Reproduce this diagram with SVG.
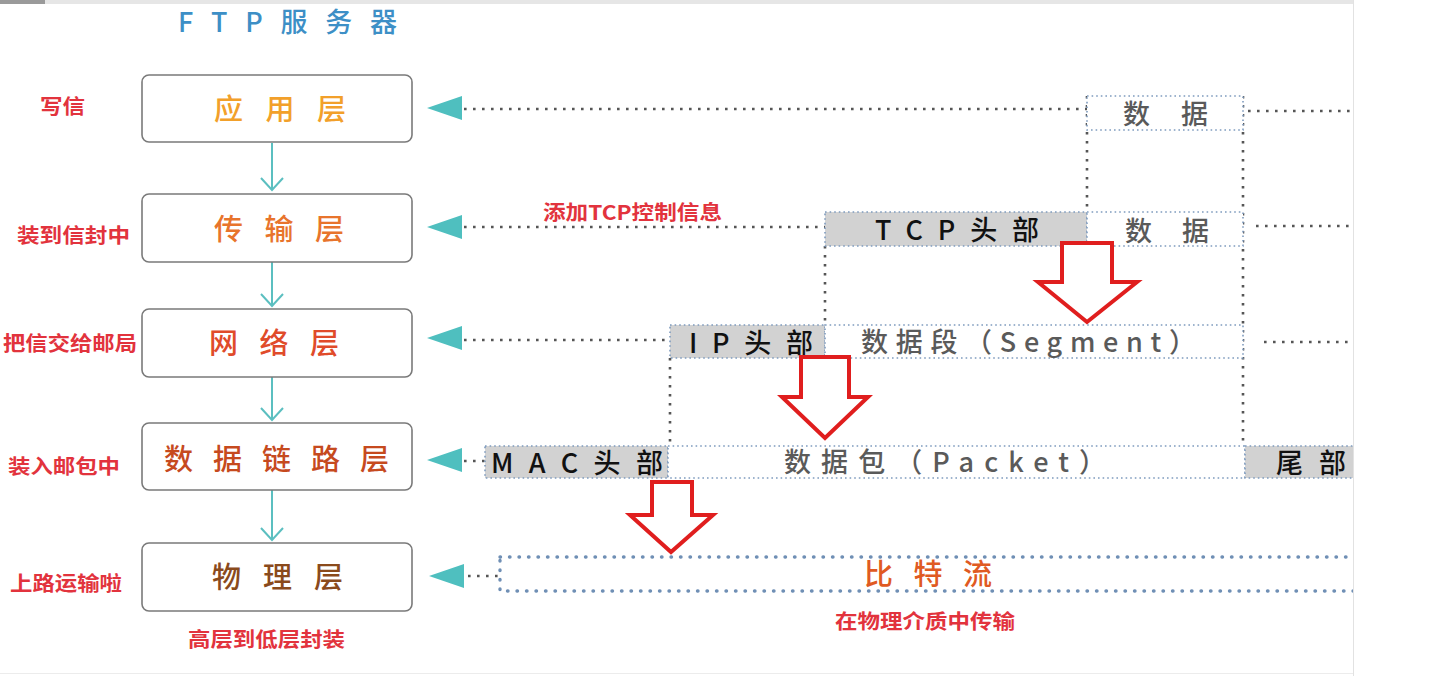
<svg xmlns="http://www.w3.org/2000/svg" width="1447" height="676" viewBox="0 0 1447 676">
<style>
.layer{font-size:29px;font-weight:500;font-family:"Noto Sans CJK SC",sans-serif}
.note{font-size:20px;font-weight:bold;fill:#e2333d;font-family:"Noto Sans CJK SC",sans-serif}
.pk{font-size:27px;font-weight:500;font-family:"Noto Sans CJK SC","Liberation Sans",sans-serif}
.hd{fill:#111}
.dt{fill:#5a5a5a}
.lbox{fill:#fff;stroke:#7a7a7a;stroke-width:1.6}
.pbox{fill:#fff;stroke:#7f9cbf;stroke-width:1.6;stroke-dasharray:1.6 3}
.gbox{fill:#d2d2d2;stroke:#7f9cbf;stroke-width:1.6;stroke-dasharray:1.6 3}
.dots{stroke:#555;stroke-width:2.6;stroke-dasharray:2.6 6.4;fill:none}
.tri{fill:#4fbfbf}
.down{stroke:#5bbfc0;stroke-width:2;fill:none}
.big{fill:#fff;stroke:#e01e1e;stroke-width:4;stroke-linejoin:miter}
</style>
<defs>
<clipPath id="shot"><rect x="0" y="0" width="1353" height="676"/></clipPath>
</defs>
<rect x="0" y="0" width="1447" height="676" fill="#fff"/>
<rect x="0" y="0" width="1353" height="4" fill="#e6e6e6"/>
<rect x="0" y="0" width="45" height="4" fill="#9a9a9a"/>
<line x1="1353.5" y1="0" x2="1353.5" y2="676" stroke="#e2e2e2" stroke-width="1"/>
<line x1="0" y1="673.5" x2="1353" y2="673.5" stroke="#ececec" stroke-width="1"/>

<g id="title"><text x="178" y="32" font-size="27" font-weight="500" fill="#3d8fc6" textLength="219" lengthAdjust="spacing" font-family="Noto Sans CJK SC, sans-serif">FTP服务器</text></g>

<g clip-path="url(#shot)">
<g id="lines">
  <path class="down" d="M272,143 V190 M261,178 L272,190 L283,178"/>
  <path class="down" d="M272,262 V306 M261,294 L272,306 L283,294"/>
  <path class="down" d="M272,377 V420 M261,408 L272,420 L283,408"/>
  <path class="down" d="M272,490 V540 M261,528 L272,540 L283,528"/>
  <line class="dots" x1="464" y1="109" x2="1087" y2="109"/>
  <line class="dots" x1="1248" y1="111" x2="1353" y2="111"/>
  <line class="dots" x1="464" y1="227" x2="825" y2="227"/>
  <line class="dots" x1="1256" y1="226" x2="1353" y2="226"/>
  <line class="dots" x1="464" y1="340" x2="670" y2="340"/>
  <line class="dots" x1="1264" y1="342" x2="1353" y2="342"/>
  <line class="dots" x1="464" y1="461" x2="485" y2="461"/>
  <line class="dots" x1="468" y1="576" x2="500" y2="576"/>
  <line class="dots" x1="1087" y1="96" x2="1087" y2="212"/>
  <line class="dots" x1="1243" y1="96" x2="1243" y2="446"/>
  <line class="dots" x1="825" y1="246" x2="825" y2="325"/>
  <line class="dots" x1="670" y1="358" x2="670" y2="446"/>
  <polygon class="tri" points="427,108 462,96 462,120"/>
  <polygon class="tri" points="427,227 462,215 462,239"/>
  <polygon class="tri" points="427,338 462,326 462,350"/>
  <polygon class="tri" points="427,460 462,448 462,472"/>
  <polygon class="tri" points="429,576 464,564 464,588"/>
</g>

<g id="layer-app"><rect class="lbox" x="142" y="75" width="270" height="67" rx="7"/><text class="layer" x="214" y="120" fill="#f2a02a" textLength="132" lengthAdjust="spacing">应用层</text></g>
<g id="layer-transport"><rect class="lbox" x="142" y="194" width="270" height="68" rx="7"/><text class="layer" x="214" y="240" fill="#e8742c" textLength="130" lengthAdjust="spacing">传输层</text></g>
<g id="layer-network"><rect class="lbox" x="142" y="309" width="270" height="68" rx="7"/><text class="layer" x="209" y="354" fill="#e04b2a" textLength="130" lengthAdjust="spacing">网络层</text></g>
<g id="layer-datalink"><rect class="lbox" x="142" y="423" width="270" height="67" rx="7"/><text class="layer" x="164" y="470" fill="#c64a1e" textLength="225" lengthAdjust="spacing">数据链路层</text></g>
<g id="layer-physical"><rect class="lbox" x="142" y="543" width="270" height="68" rx="7"/><text class="layer" x="212" y="588" fill="#8a4a1c" textLength="131" lengthAdjust="spacing">物理层</text></g>

<g id="notes">
  <text class="note" x="40" y="114" textLength="45" lengthAdjust="spacingAndGlyphs">写信</text>
  <text class="note" x="17" y="243" textLength="113" lengthAdjust="spacingAndGlyphs">装到信封中</text>
  <text class="note" x="3" y="351" textLength="134" lengthAdjust="spacingAndGlyphs">把信交给邮局</text>
  <text class="note" x="8" y="474" textLength="112" lengthAdjust="spacingAndGlyphs">装入邮包中</text>
  <text class="note" x="10" y="591" textLength="112" lengthAdjust="spacingAndGlyphs">上路运输啦</text>
  <text class="note" x="188" y="647" textLength="157" lengthAdjust="spacingAndGlyphs">高层到低层封装</text>
  <text class="note" x="543" y="220" textLength="179" lengthAdjust="spacingAndGlyphs">添加TCP控制信息</text>
  <text class="note" x="835" y="629" textLength="180" lengthAdjust="spacingAndGlyphs">在物理介质中传输</text>
</g>

<g id="data-app"><rect class="pbox" x="1087" y="96" width="156" height="34"/><text class="pk dt" x="1123" y="124" textLength="85" lengthAdjust="spacing">数据</text></g>
<g id="tcp-header"><rect class="gbox" x="825" y="212" width="262" height="34"/><text class="pk hd" x="875" y="240" textLength="164" lengthAdjust="spacing">TCP头部</text></g>
<g id="data-transport"><rect class="pbox" x="1087" y="212" width="156" height="34"/><text class="pk dt" x="1125" y="241" textLength="84" lengthAdjust="spacing">数据</text></g>
<g id="ip-header"><rect class="gbox" x="670" y="325" width="155" height="33"/><text class="pk hd" x="689" y="353" textLength="124" lengthAdjust="spacing">IP头部</text></g>
<g id="segment"><rect class="pbox" x="825" y="325" width="418" height="33"/><text class="pk dt" x="861" y="352" textLength="335" lengthAdjust="spacing">数据段（Segment）</text></g>
<g id="mac-header"><rect class="gbox" x="485" y="446" width="183" height="32"/><text class="pk hd" x="491" y="473" textLength="172" lengthAdjust="spacing">MAC头部</text></g>
<g id="packet"><rect class="pbox" x="668" y="446" width="577" height="32"/><text class="pk dt" x="784" y="472" textLength="322" lengthAdjust="spacing">数据包（Packet）</text></g>
<g id="trailer"><rect class="gbox" x="1245" y="446" width="120" height="32"/><text class="pk hd" x="1276" y="473" textLength="70" lengthAdjust="spacing">尾部</text></g>
<g id="bitstream"><rect x="500" y="557" width="880" height="34" fill="#fff" stroke="#6f8fb5" stroke-width="3.4" stroke-dasharray="0.5 9" stroke-linecap="round"/><text class="layer" x="864" y="585" fill="#e05a22" textLength="128" lengthAdjust="spacing">比特流</text></g>

<g id="red-arrows">
  <path class="big" d="M1062,243 L1112,243 L1112,282 L1137,282 L1087,322 L1038,282 L1062,282 Z"/>
  <path class="big" d="M801,357 L849,357 L849,397 L868,397 L825,438 L782,397 L801,397 Z"/>
  <path class="big" d="M652,482 L692,482 L692,515 L713,515 L671,552 L630,515 L652,515 Z"/>
</g>
</g>
</svg>
